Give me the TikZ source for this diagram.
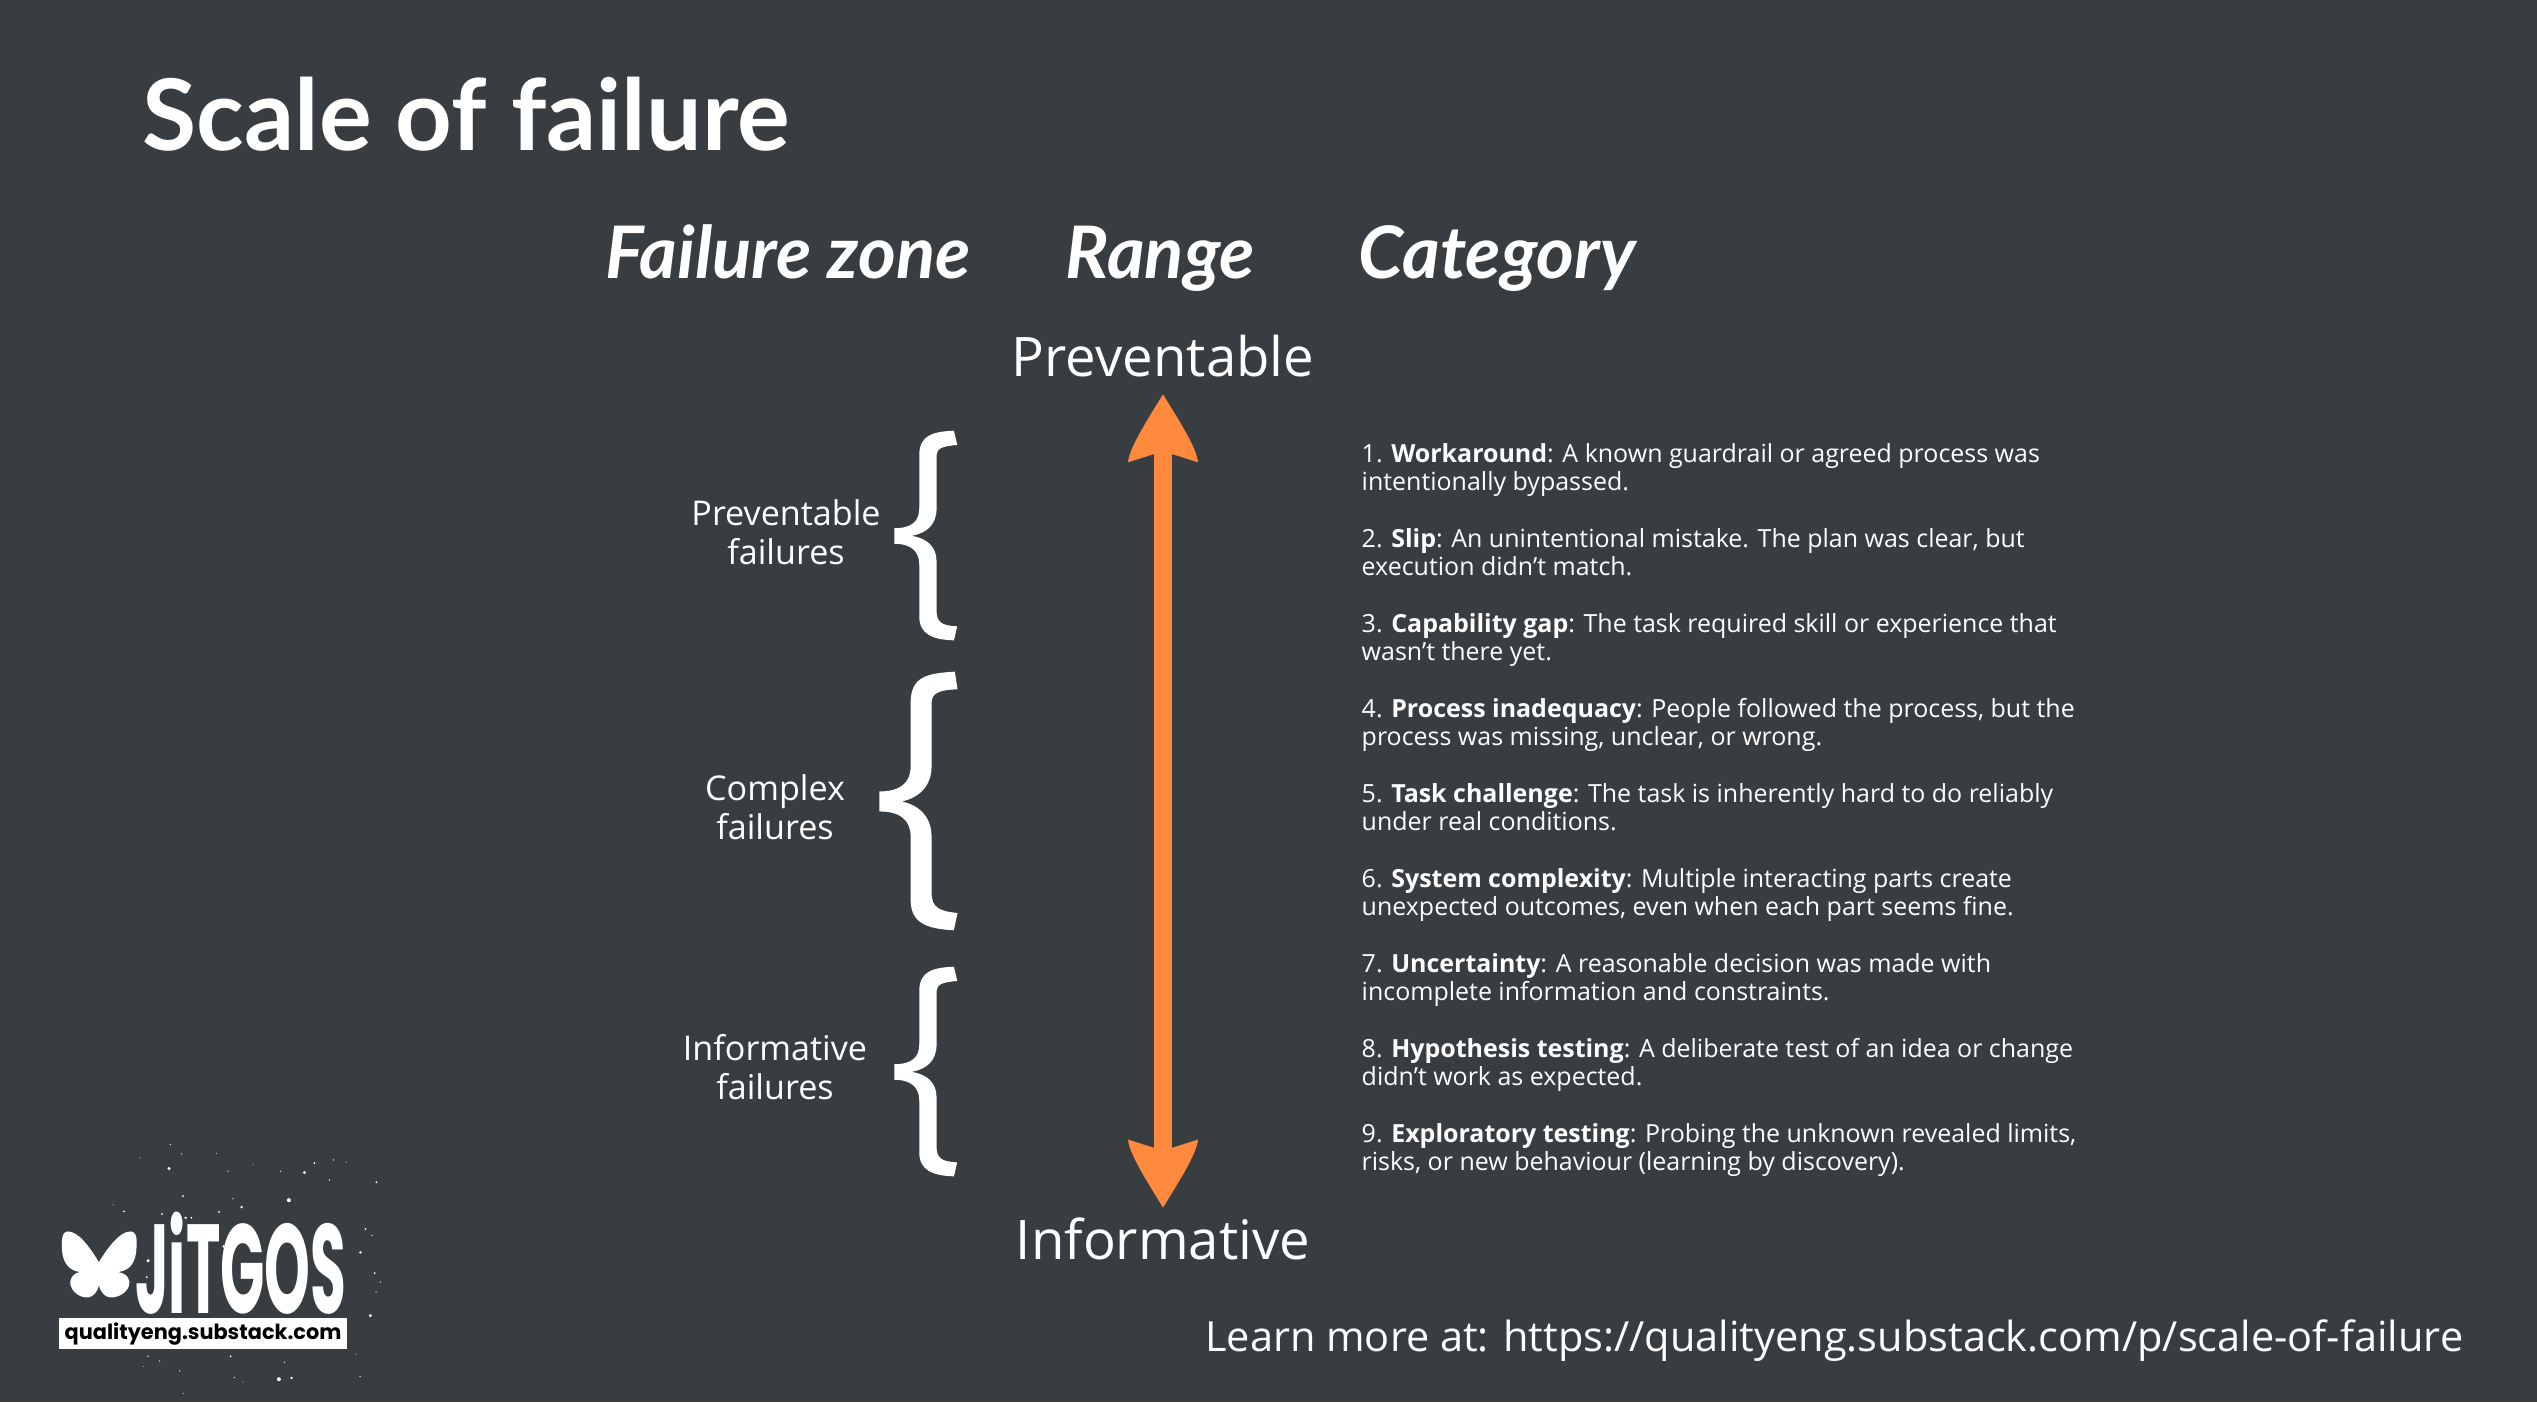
\documentclass[tikz,border=0pt]{standalone}
\usepackage{fontspec}
\setmainfont{Open Sans}
\newfontfamily\headfont{Lato}
\newfontfamily\logofont{Poppins}
\usetikzlibrary{positioning}
\definecolor{slate}{HTML}{383D42}
\definecolor{rangeorange}{HTML}{FF8A3D}
\pgfdeclarearrow{
  name=Dart,
  setup code={
    \pgfarrowssettipend{0pt}
    \pgfarrowssetbackend{-19.35pt}
    \pgfarrowssetlineend{-16.5pt}
    \pgfarrowssetvisualbackend{-17pt}
    \pgfarrowshullpoint{0pt}{0pt}
    \pgfarrowshullpoint{-19.35pt}{9.95pt}
    \pgfarrowshullpoint{-19.35pt}{-9.95pt}
  },
  drawing code={
    \pgfpathmoveto{\pgfqpoint{0pt}{0pt}}
    \pgfpathcurveto{\pgfqpoint{-6pt}{3.6pt}}{\pgfqpoint{-15pt}{9.6pt}}{\pgfqpoint{-19.35pt}{9.95pt}}
    \pgfpathlineto{\pgfqpoint{-17pt}{2.56pt}}
    \pgfpathlineto{\pgfqpoint{-17pt}{-2.56pt}}
    \pgfpathlineto{\pgfqpoint{-19.35pt}{-9.95pt}}
    \pgfpathcurveto{\pgfqpoint{-15pt}{-9.6pt}}{\pgfqpoint{-6pt}{-3.6pt}}{\pgfqpoint{0pt}{0pt}}
    \pgfpathclose
    \pgfsetfillcolor{rangeorange}
    \pgfusepathqfill
  }
}
\begin{document}
\begin{tikzpicture}[
    x=0.01cm, y=-0.01cm,
    title/.style={text=white, inner sep=0pt, anchor=base west, font=\headfont\bfseries\fontsize{28.1}{32}\selectfont},
    column/.style={text=white, inner sep=0pt, anchor=base, font=\headfont\bfseries\itshape\fontsize{20.6}{24}\selectfont},
    rangelabel/.style={text=white, inner sep=0pt, anchor=base, font=\fontsize{15.5}{18}\selectfont},
    zone/.style={text=white, inner sep=0pt, align=center, font=\fontsize{9.7}{11.1}\selectfont},
    item/.style={text=white, inner sep=0pt, anchor=north west, align=left, font=\fontsize{7.1}{8}\selectfont},
    rangearrow/.style={draw=rangeorange, line width=5.12pt, {Dart}-{Dart}},
    smallbrace/.pic={
      \fill[white, x=0.00333cm, y=-0.00333cm] (222,32) .. controls (160,35) and (118,45) .. (118,105) -- (118,265)
        .. controls (118,305) and (95,325) .. (43,325) -- (43,372)
        .. controls (95,372) and (118,395) .. (118,435) -- (118,590)
        .. controls (118,645) and (160,660) .. (222,662) -- (232,620)
        .. controls (190,618) and (170,610) .. (170,575) -- (170,425)
        .. controls (170,380) and (140,355) .. (95,348)
        .. controls (140,340) and (170,315) .. (170,265) -- (170,105)
        .. controls (170,85) and (190,78) .. (232,75) -- cycle;
    },
    bigbrace/.pic={
      \fill[white, x=0.00333cm, y=-0.00333cm] (285,35) .. controls (200,40) and (152,50) .. (152,130) -- (152,320)
        .. controls (152,370) and (120,395) .. (58,395) -- (58,455)
        .. controls (120,455) and (152,480) .. (152,530) -- (152,720)
        .. controls (152,790) and (200,808) .. (282,812) -- (293,760)
        .. controls (240,755) and (215,745) .. (215,700) -- (215,530)
        .. controls (215,470) and (175,435) .. (125,425)
        .. controls (175,415) and (215,380) .. (215,320) -- (215,130)
        .. controls (215,100) and (235,90) .. (293,88) -- cycle;
    }
]

% Background
\fill[slate] (0,0) rectangle (2537,1402);

% Headings
\node[title] (heading) at (142,150) {Scale of failure};
\node[column] (zonehead) at (788,278) {Failure zone};
\node[column] (rangehead) at (1160,278) {Range};
\node[column] (cathead) at (1497,278) {Category};

% Range
\node[rangelabel] (preventable) at (1163,376) {Preventable};
\node[rangelabel] (informative) at (1163,1259) {Informative};
\draw[rangearrow, shorten <=0.17cm, shorten >=0.09cm] (preventable.south) -- (informative.north);

% Failure zones
\node[zone] (zoneprev) at (786,532) {Preventable\\failures};
\node[zone] (zonecomplex) at (775,807) {Complex\\failures};
\node[zone] (zoneinfo) at (775,1067) {Informative\\failures};

% Braces
\pic at (880,420) {smallbrace};
\pic at (860,660) {bigbrace};
\pic at (880,956) {smallbrace};

% Categories
\node[item] (cat1) at (1361,443) {1. \textbf{Workaround}: A known guardrail or agreed process was\\intentionally bypassed.};
\node[item] (cat2) at (1361,528) {2. \textbf{Slip}: An unintentional mistake. The plan was clear, but\\execution didn’t match.};
\node[item] (cat3) at (1361,613) {3. \textbf{Capability gap}: The task required skill or experience that\\wasn’t there yet.};
\node[item] (cat4) at (1361,698) {4. \textbf{Process inadequacy}: People followed the process, but the\\process was missing, unclear, or wrong.};
\node[item] (cat5) at (1361,783) {5. \textbf{Task challenge}: The task is inherently hard to do reliably\\under real conditions.};
\node[item] (cat6) at (1361,868) {6. \textbf{System complexity}: Multiple interacting parts create\\unexpected outcomes, even when each part seems fine.};
\node[item] (cat7) at (1361,953) {7. \textbf{Uncertainty}: A reasonable decision was made with\\incomplete information and constraints.};
\node[item] (cat8) at (1361,1038) {8. \textbf{Hypothesis testing}: A deliberate test of an idea or change\\didn’t work as expected.};
\node[item] (cat9) at (1361,1123) {9. \textbf{Exploratory testing}: Probing the unknown revealed limits,\\risks, or new behaviour (learning by discovery).};

% Footer link
\node[text=white, inner sep=0pt, anchor=base east, font=\fontsize{11.8}{14}\selectfont] (learnmore) at (2464,1351) {Learn more at: https://qualityeng.substack.com/p/scale-of-failure};

% Logo
\node[inner sep=0pt, text=white, anchor=base west, xscale=0.46, transform shape, font=\logofont\bfseries\fontsize{36}{40}\selectfont] (logoword) at (135,1313) {JiTGOS};
\fill[white] (59,1318) rectangle (347,1349);
\node[inner sep=0pt, text=black, text height=4.5pt, text depth=1pt, font=\logofont\bfseries\fontsize{5.93}{7}\selectfont] (logourl) at (203,1333) {qualityeng.substack.com};
\begin{scope}[x=0.00333cm, y=-0.00333cm, shift={(0,-11cm)}]
\fill[white] (297,485) .. controls (270,440) and (235,393) .. (205,393)
  .. controls (185,393) and (185,420) .. (186,445)
  .. controls (188,485) and (205,510) .. (240,515)
  .. controls (215,520) and (208,540) .. (212,555)
  .. controls (220,585) and (265,605) .. (285,580)
  .. controls (292,572) and (295,565) .. (297,555)
  .. controls (300,565) and (303,572) .. (310,580)
  .. controls (330,605) and (380,585) .. (388,555)
  .. controls (392,540) and (385,520) .. (355,515)
  .. controls (392,510) and (408,485) .. (410,445)
  .. controls (412,420) and (412,393) .. (392,393)
  .. controls (360,393) and (325,440) .. (297,485) -- cycle;
% Splatter
\foreach \px/\py/\pr in {508/204/5,915/216/5,868/299/6,726/320/4,372/333/3,1131/245/3,945/188/3,1002/178/2,512/132/2,
  545/160/2,650/158/1.5,685/212/2,843/212/2,550/287/3,700/295/2,527/338/5,487/341/3,558/352/4,575/352/3,658/334/3,
  1098/386/3,1083/456/4,1118/405/2,1126/518/3,1143/545/2,1130/575/2,1113/646/5,838/837/6,876/833/4,1082/829/2,
  445/481/5,441/530/3,693/768/3,445/768/2,480/782/2,540/812/2,705/832/2,855/786/2,430/798/1.5,550/880/1.5,
  730/845/1.5,1070/762/1.5,1040/185/1.5,990/238/2,420/172/1.5,760/193/1.5,340/313/1.5,672/438/4}{
  \fill[white] (\px,\py) circle[radius=\pr];
}
\end{scope}

\end{tikzpicture}
\end{document}
